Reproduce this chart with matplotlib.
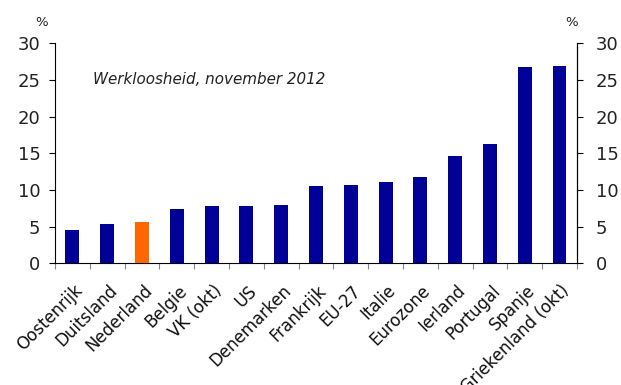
import matplotlib
matplotlib.use("Agg")
import matplotlib.pyplot as plt
import matplotlib.transforms as mtransforms
import numpy as np

categories = ["Oostenrijk", "Duitsland", "Nederland", "Belgie", "VK (okt)", "US",
              "Denemarken", "Frankrijk", "EU-27", "Italie", "Eurozone", "Ierland",
              "Portugal", "Spanje", "Griekenland (okt)"]
values = [4.5, 5.4, 5.6, 7.4, 7.8, 7.8, 7.9, 10.5, 10.7, 11.1, 11.8, 14.6, 16.3, 26.7, 26.9]
highlight = "Nederland"
yticks = [0, 5, 10, 15, 20, 25, 30]
title = "Werkloosheid, november 2012"

plt.rcParams['font.family'] = ['DejaVu Sans']
fig = plt.figure(figsize=(6.21, 3.85), dpi=100)
ax = fig.add_axes([0.0886, 0.3156, 0.8404, 0.5724])

x = np.arange(len(categories))
colors = ['#FF6600' if c == highlight else '#000096' for c in categories]
ax.bar(x, values, width=0.4, color=colors, zorder=3)

ax.set_xlim(-0.5, len(categories) - 0.5)
ax.set_ylim(0, 30)
ax.set_yticks(yticks)
ax.tick_params(axis='y', labelsize=13, length=4.5, pad=6, direction='out', colors='black', labelcolor='#222222')
ax.set_xticks(np.arange(-0.5, len(categories), 1.0))
ax.set_xticklabels([])
ax.tick_params(axis='x', length=4.5, color='#888888', direction='out')
ax.set_xticks(x, minor=True)
ax.set_xticklabels(categories, minor=True, rotation=45, ha='right', va='top',
                   rotation_mode='anchor', fontsize=12, color='#111111')
ax.tick_params(axis='x', which='minor', length=0, pad=13)
offset = mtransforms.ScaledTranslation(1 / 100, 0, fig.dpi_scale_trans)
for lbl in ax.get_xticklabels(minor=True):
    lbl.set_transform(lbl.get_transform() + offset)

ax.spines['top'].set_visible(False)
ax2 = ax.twinx()
ax2.set_ylim(0, 30)
ax2.set_yticks(yticks)
ax2.tick_params(axis='y', labelsize=13, length=4.5, pad=9, direction='out', labelcolor='#222222')
for s in ['top', 'left', 'bottom']:
    ax2.spines[s].set_visible(False)

ax.text(0.0728, 25, title, transform=mtransforms.blended_transform_factory(ax.transAxes, ax.transData),
        style='italic', fontsize=10.9, color='#222222', va='center', ha='left')
fig.text(42/621, 1 - 23/385, "%", fontsize=9.5, ha='center', va='center', color='#222222')
fig.text(572/621, 1 - 22/385, "%", fontsize=9.5, ha='center', va='center', color='#222222')

fig.savefig("out.png", dpi=100)
